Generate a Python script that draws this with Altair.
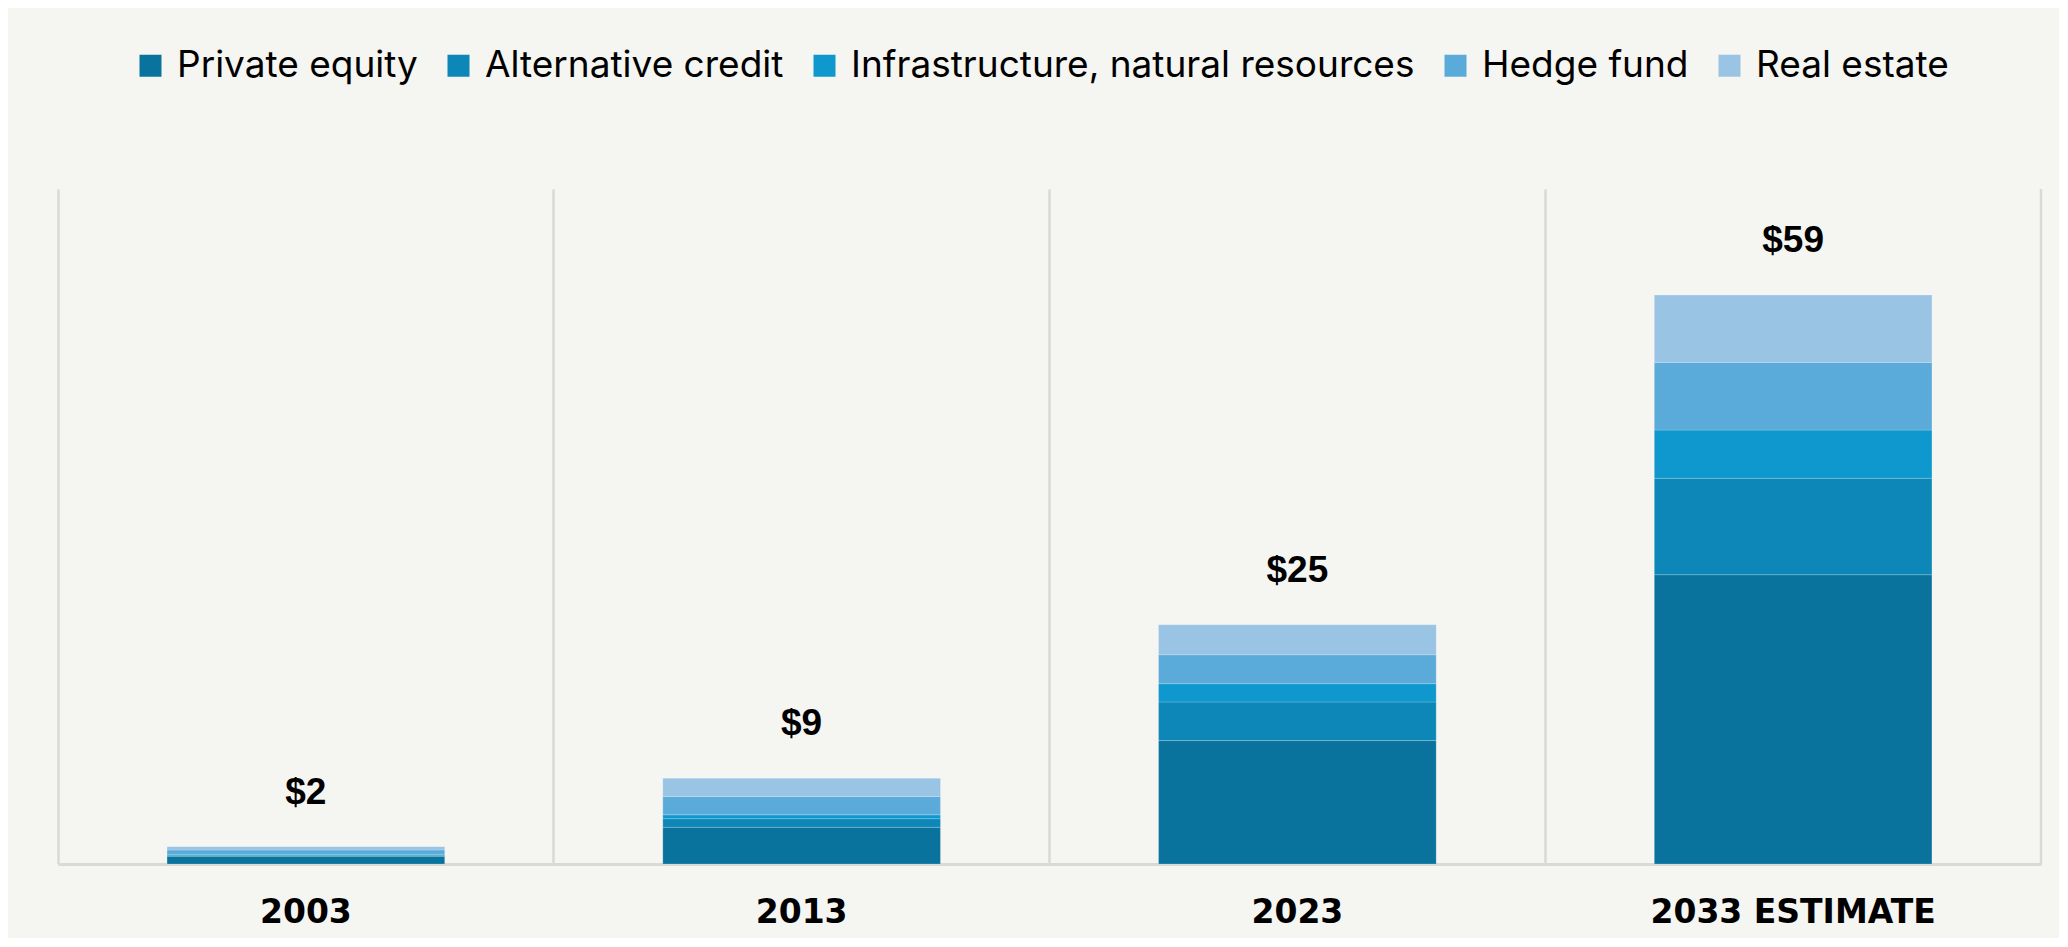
import altair as alt
import pandas as pd

years = ["2003", "2013", "2023", "2033 ESTIMATE"]
categories = ["Private equity", "Alternative credit", "Infrastructure, natural resources", "Hedge fund", "Real estate"]
colors = ["#0A739D", "#0D87B8", "#0F98CD", "#5BABDA", "#99C4E4"]

private_equity = [0.80, 3.8, 12.8, 30.0]
alternative_credit = [0.12, 0.9, 4.0, 10.0]
infrastructure = [0.08, 0.4, 1.9, 5.0]
hedge_fund = [0.45, 1.9, 3.0, 7.0]
real_estate = [0.35, 1.9, 3.1, 7.0]

series = [private_equity, alternative_credit, infrastructure, hedge_fund, real_estate]

rows = []
for ci, (cat, vals) in enumerate(zip(categories, series)):
    for y, v in zip(years, vals):
        rows.append({"year": y, "category": cat, "value": v, "idx": ci})
df = pd.DataFrame(rows)

totals = [sum(s[i] for s in series) for i in range(len(years))]
tdf = pd.DataFrame({"year": years, "total": totals,
                    "label": ["$" + str(int(round(t))) for t in totals]})

x_enc = alt.X("year:N", sort=years, title=None,
              scale=alt.Scale(paddingInner=0, paddingOuter=0),
              axis=alt.Axis(labelAngle=0, labelFont="DejaVu Sans", labelFontWeight="bold",
                            labelFontSize=33, labelColor="#000000", labelPadding=32,
                            labelLimit=1000,
                            ticks=False, domainColor="#d9d9d9", domainWidth=3,
                            grid=True, gridColor="#d9d9d9", gridWidth=2.5, bandPosition=0))
y_scale = alt.Scale(domain=[0, 70])

bars = alt.Chart(df).mark_bar(width=alt.RelativeBandSize(0.56), stroke="#ffffff",
                              strokeWidth=0.6, strokeOpacity=0.3).encode(
    x=x_enc,
    y=alt.Y("value:Q", stack="zero", scale=y_scale, axis=None),
    color=alt.Color("category:N", scale=alt.Scale(domain=categories, range=colors),
                    legend=alt.Legend(title=None, orient="none", legendX=74, legendY=-142,
                                      direction="horizontal", symbolType="square",
                                      symbolSize=484, symbolStrokeWidth=0,
                                      labelFont="Inter", labelFontSize=37, labelColor="#000000",
                                      labelOffset=8, columnPadding=22, labelLimit=1000,
                                      padding=0)),
    order=alt.Order("idx:Q", sort="ascending"),
)

edge = alt.Chart(pd.DataFrame({"year": years[-1:]})).mark_rule(
    color="#d9d9d9", strokeWidth=2.5).encode(
    x=alt.X("year:N", sort=years, bandPosition=1)
)

labels = alt.Chart(tdf).mark_text(font="Liberation Sans", fontWeight="bold", fontSize=37,
                                  color="#000000", dy=-54, baseline="middle").encode(
    x=alt.X("year:N", sort=years),
    y=alt.Y("total:Q", scale=y_scale),
    text="label:N",
)

chart = alt.layer(bars, edge, labels).properties(
    width=1983, height=675,
    autosize=alt.AutoSizeParams(type="none"),
    padding={"left": 50, "top": 181, "right": 18, "bottom": 74},
    background="#f5f5f1",
).configure_view(stroke=None)

chart.save("out.html", embed_options={"renderer": "svg", "actions": False})
